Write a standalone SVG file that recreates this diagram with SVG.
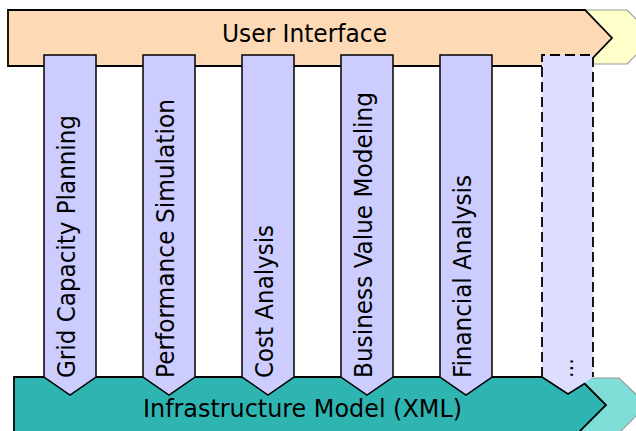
<svg xmlns="http://www.w3.org/2000/svg" width="636" height="431" viewBox="0 0 636 431">
<style>
.lbl{font-family:"DejaVu Sans Condensed","DejaVu Sans",sans-serif;font-stretch:condensed;font-size:25px;fill:#000}
.col{fill:#CCCCFF;stroke:#000;stroke-width:1.5;stroke-linejoin:miter}
.main{stroke:#000;stroke-width:1.8;stroke-linejoin:miter}
.back{stroke:#999;stroke-width:1.2}
</style>
<rect width="636" height="431" fill="#fff"/>
<g id="ui-back"><polygon class="back" fill="#FFFFCC" points="560,10 627,10 654,37 627,64 560,64"/></g>
<g id="ui">
<polygon class="main" fill="#FDD9B5" points="8,10 585,10 612,38 585,66 8,66"/>
<text class="lbl" x="222" y="42" textLength="165" lengthAdjust="spacingAndGlyphs">User Interface</text>
</g>
<g id="infra-back"><polygon class="back" fill="#80DED9" points="560,378 619,378 647,405 619,433 560,433"/></g>
<g id="infra">
<polygon class="main" fill="#2EB5B2" points="14,377 578,377 606,405 578,433 14,433"/>
</g>
<g id="connectors"></g>
<g id="grid">
<polygon class="col" points="44,55 96,55 96,377 70,395 44,377"/>
<text class="lbl" transform="translate(75,378) rotate(-90)" textLength="263" lengthAdjust="spacingAndGlyphs">Grid Capacity Planning</text>
</g>
<g id="perf">
<polygon class="col" points="143,55 195,55 195,377 169,395 143,377"/>
<text class="lbl" transform="translate(174,378) rotate(-90)" textLength="279" lengthAdjust="spacingAndGlyphs">Performance Simulation</text>
</g>
<g id="cost">
<polygon class="col" points="242,55 294,55 294,377 268,395 242,377"/>
<text class="lbl" transform="translate(273,378) rotate(-90)" textLength="153" lengthAdjust="spacingAndGlyphs">Cost Analysis</text>
</g>
<g id="business">
<polygon class="col" points="341,55 393,55 393,377 367,395 341,377"/>
<text class="lbl" transform="translate(372,378) rotate(-90)" textLength="286" lengthAdjust="spacingAndGlyphs">Business Value Modeling</text>
</g>
<g id="financial">
<polygon class="col" points="440,55 492,55 492,377 466,395 440,377"/>
<text class="lbl" transform="translate(471,378) rotate(-90)" textLength="203" lengthAdjust="spacingAndGlyphs">Financial Analysis</text>
</g>
<g id="more">
<polygon fill="#DDDDFF" points="542,55 593,55 593,377 568,394 542,377"/>
<polyline fill="none" stroke="#000" stroke-width="1.8" stroke-dasharray="10,5" points="542,377 542,55 593,55 593,377"/>
<polyline fill="none" stroke="#000" stroke-width="1.5" points="542,377 568,394 584,384"/>
<text class="lbl" style="font-size:22px" transform="translate(573,378) rotate(-90)">…</text>
</g>
<g id="infra-label">
<text class="lbl" x="143" y="417" textLength="319" lengthAdjust="spacingAndGlyphs">Infrastructure Model (XML)</text>
</g>
</svg>
